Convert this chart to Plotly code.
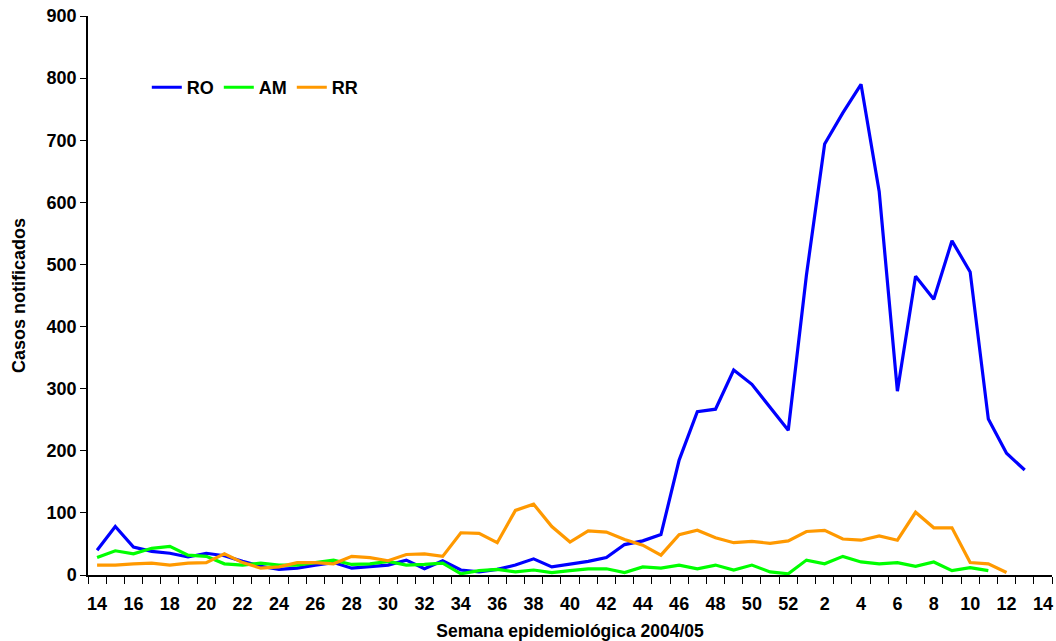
import plotly.graph_objects as go

weeks = [str(w) for w in range(14, 53)] + [str(w) for w in range(1, 15)]

ro = [40, 78, 45, 38, 35, 29, 35, 31, 22, 14, 9, 11, 16, 20, 11, 14, 16, 24, 10, 23,
      8, 5, 9, 16, 26, 13, 17, 22, 28, 49, 55, 65, 185, 263, 267, 330, 307, 271, 233,
      483, 694, 744, 790, 617, 296, 481, 444, 538, 488, 251, 196, 169, None]

am = [28, 39, 34, 43, 46, 32, 30, 18, 16, 19, 16, 16, 20, 24, 17, 18, 22, 16, 17, 19,
      2, 7, 9, 5, 8, 4, 7, 10, 10, 4, 13, 11, 16, 10, 16, 8, 16, 5, 2,
      24, 18, 30, 21, 18, 20, 14, 21, 7, 12, 7, None, None, None]

rr = [16, 16, 18, 19, 16, 19, 20, 34, 20, 11, 13, 20, 20, 18, 30, 28, 23, 33, 34, 30,
      68, 67, 52, 104, 114, 78, 53, 71, 69, 57, 48, 32, 65, 72, 60, 52, 54, 51, 55,
      70, 72, 58, 56, 63, 56, 101, 76, 76, 20, 18, 4, None, None]

y_ticks = list(range(0, 1000, 100))

idx = list(range(len(weeks)))
FONT = "Liberation Sans, Arial, sans-serif"

fig = go.Figure()
for name, vals, color in [("RO", ro, "#0000FF"), ("AM", am, "#00FF00"), ("RR", rr, "#FF9900")]:
    fig.add_trace(go.Scatter(x=idx, y=vals, name=f"<b>{name}</b>", mode="lines",
                             line=dict(color=color, width=3.2), connectgaps=False))

fig.update_layout(
    width=1056, height=641,
    margin=dict(l=88, r=4, t=16, b=66),
    paper_bgcolor="white", plot_bgcolor="white",
    font=dict(family=FONT, size=16, color="black"),
    showlegend=True,
    legend=dict(orientation="h", x=0.061, y=0.872, xanchor="left", yanchor="middle",
                bgcolor="rgba(0,0,0,0)", font=dict(size=18, family=FONT),
                itemwidth=30, tracegroupgap=0),
    xaxis=dict(
        range=[-0.5, len(weeks) - 0.5], automargin=False,
        tickmode="array", tickvals=idx[::2], ticktext=[f"<b>{t}</b>" for t in weeks[::2]],
        ticks="outside", ticklen=0, ticklabelstandoff=12,
        tickfont=dict(size=18, family=FONT),
        minor=dict(tick0=-0.5, dtick=1, ticks="outside", ticklen=7, tickcolor="black", tickwidth=1),
        showline=True, linecolor="black", linewidth=1.5, showgrid=False, zeroline=False,
        title=dict(text="<b>Semana epidemiológica 2004/05</b>", font=dict(size=17.5, family=FONT), standoff=14),
    ),
    yaxis=dict(
        range=[0, 900], automargin=False, tickmode="array", tickvals=y_ticks,
        ticktext=[f"<b>{v}</b>" for v in y_ticks],
        ticks="outside", ticklen=6, tickcolor="black",
        tickfont=dict(size=18, family=FONT),
        showline=True, linecolor="black", linewidth=1.5, showgrid=False, zeroline=False,
        title=dict(text="<b>Casos notificados</b>", font=dict(size=18, family=FONT), standoff=16),
    ),
)

fig.write_html("out.html", config={"displayModeBar": False},
               post_script="document.body.style.margin='0';document.body.style.overflow='hidden';")
